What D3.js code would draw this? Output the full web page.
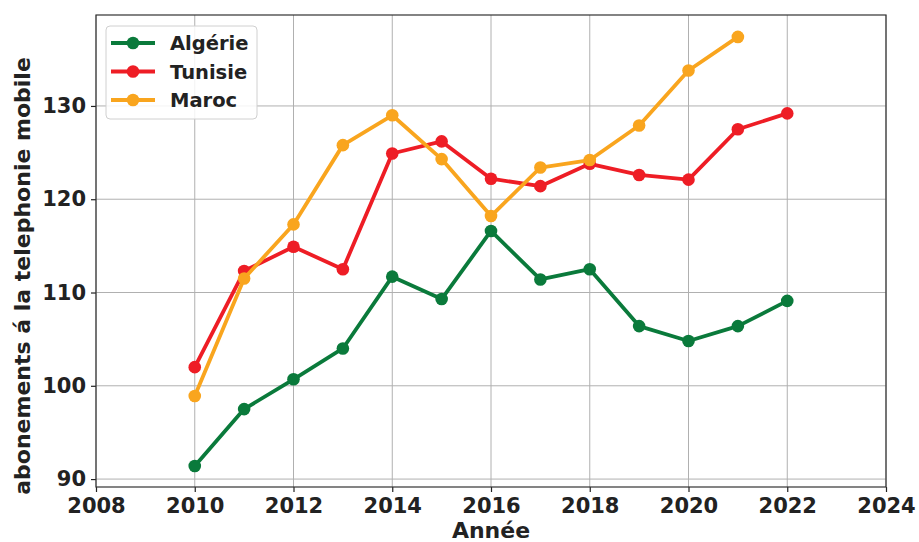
<!DOCTYPE html>
<html>
<head>
<meta charset="utf-8">
<script src="https://cdn.jsdelivr.net/npm/d3@7"></script>
<style>
    body { margin: 0; background: #fff; }
    svg { display: block; font-family: "DejaVu Sans", sans-serif; }
</style>
</head>
<body>
<div id="chart"></div>
<script>
// Données — abonnements mobiles
const years = [2010, 2011, 2012, 2013, 2014, 2015, 2016, 2017, 2018, 2019, 2020, 2021, 2022];
const algerie = [91.4, 97.5, 100.7, 104.0, 111.7, 109.3, 116.6, 111.4, 112.5, 106.4, 104.8, 106.4, 109.1];
const tunisie = [102.0, 112.3, 114.9, 112.5, 124.9, 126.2, 122.2, 121.4, 123.8, 122.6, 122.1, 127.5, 129.2];
const maroc = [98.9, 111.5, 117.3, 125.8, 129.0, 124.3, 118.2, 123.4, 124.2, 127.9, 133.8, 137.4];
const xTicks = [2008, 2010, 2012, 2014, 2016, 2018, 2020, 2022, 2024];
const yTicks = [90, 100, 110, 120, 130];

const series = [
    { name: 'Algérie', values: algerie, color: '#0a7a3b' },
    { name: 'Tunisie', values: tunisie, color: '#ee1d25' },
    { name: 'Maroc', values: maroc, color: '#f9a51e' }
];

const W = 919, H = 542;
const m = { left: 96, right: 33, top: 15, bottom: 55 };

const svg = d3.select('#chart').append('svg')
    .attr('width', W)
    .attr('height', H);

const x = d3.scaleLinear().domain([2008, 2024]).range([m.left, W - m.right]);
const y = d3.scaleLinear().domain([89.15, 139.75]).range([H - m.bottom, m.top]);

// Grid
svg.append('g').selectAll('line.gx').data(xTicks).enter().append('line')
    .attr('x1', d => x(d)).attr('x2', d => x(d))
    .attr('y1', m.top).attr('y2', H - m.bottom)
    .attr('stroke', '#b0b0b0').attr('stroke-width', 1);
svg.append('g').selectAll('line.gy').data(yTicks).enter().append('line')
    .attr('x1', m.left).attr('x2', W - m.right)
    .attr('y1', d => y(d)).attr('y2', d => y(d))
    .attr('stroke', '#b0b0b0').attr('stroke-width', 1);

// Axes
const xAxis = svg.append('g')
    .attr('transform', `translate(0,${H - m.bottom})`)
    .call(d3.axisBottom(x).tickValues(xTicks).tickFormat(d3.format('d')).tickSize(5).tickPadding(6));
const yAxis = svg.append('g')
    .attr('transform', `translate(${m.left},0)`)
    .call(d3.axisLeft(y).tickValues(yTicks).tickSize(5).tickPadding(5));

[xAxis, yAxis].forEach(a => {
    a.select('.domain').remove();
    a.selectAll('line').attr('stroke', '#222').attr('stroke-width', 1.2);
    a.selectAll('text')
        .attr('fill', '#222')
        .style('font-size', '21px')
        .style('font-weight', 'bold')
        .style('font-family', '"DejaVu Sans", sans-serif');
});

// Frame
svg.append('rect')
    .attr('x', m.left).attr('y', m.top)
    .attr('width', W - m.left - m.right).attr('height', H - m.top - m.bottom)
    .attr('fill', 'none').attr('stroke', '#333').attr('stroke-width', 1.2);

// Lines + markers
const line = d3.line().x(d => x(d[0])).y(d => y(d[1]));
series.forEach(s => {
    const pts = s.values.map((v, i) => [years[i], v]);
    svg.append('path')
        .datum(pts)
        .attr('d', line)
        .attr('fill', 'none')
        .attr('stroke', s.color)
        .attr('stroke-width', 3.8)
        .attr('stroke-linejoin', 'round');
    svg.append('g').selectAll('circle').data(pts).enter().append('circle')
        .attr('cx', d => x(d[0]))
        .attr('cy', d => y(d[1]))
        .attr('r', 6.3)
        .attr('fill', s.color);
});

// Axis titles
svg.append('text')
    .attr('x', (m.left + W - m.right) / 2)
    .attr('y', H - 4)
    .attr('text-anchor', 'middle')
    .style('font-size', '22px').style('font-weight', 'bold').attr('fill', '#222')
    .text('Année');
svg.append('text')
    .attr('transform', `translate(30,276) rotate(-90)`)
    .attr('text-anchor', 'middle')
    .style('font-size', '22px').style('font-weight', 'bold').attr('fill', '#222')
    .text('abonements á la telephonie mobile');

// Legend
const lg = svg.append('g').attr('transform', 'translate(106,26)');
lg.append('rect')
    .attr('width', 151).attr('height', 93).attr('rx', 4)
    .attr('fill', '#fff').attr('fill-opacity', 0.85)
    .attr('stroke', '#d0d0d0').attr('stroke-width', 1);
series.forEach((s, i) => {
    const row = lg.append('g').attr('transform', `translate(0,${17 + i * 28.5})`);
    row.append('line').attr('x1', 5).attr('x2', 49).attr('stroke', s.color).attr('stroke-width', 3.8);
    row.append('circle').attr('cx', 27).attr('r', 6.3).attr('fill', s.color);
    row.append('text').attr('x', 64).attr('dy', '0.36em')
        .style('font-size', '19.5px').style('font-weight', 'bold').attr('fill', '#222')
        .text(s.name);
});
</script>
</body>
</html>
